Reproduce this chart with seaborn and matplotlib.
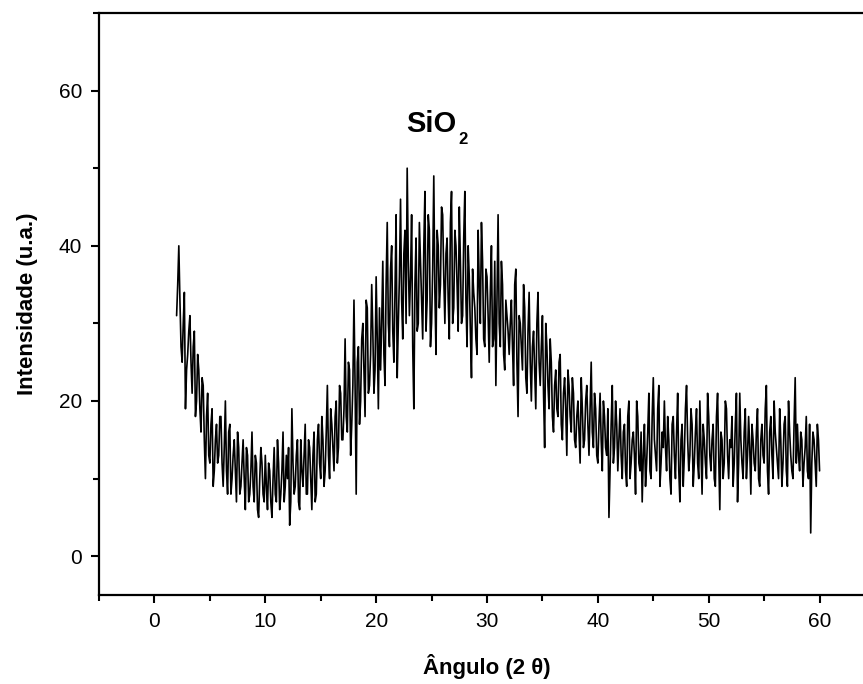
import numpy as np
import pandas as pd
import matplotlib
matplotlib.use("Agg")
import matplotlib.pyplot as plt
from matplotlib.ticker import MultipleLocator
import seaborn as sns

# 2-theta from 2 to 60 deg, step 0.1 (even and odd readings kept apart)
angle_start = 2.0
angle_step = 0.1

# intensity at 2.0, 2.2, 2.4 ... 60.0 (u.a.), one row per 2 degrees
intensity_even = [
    31, 40, 27, 30, 19, 26, 31, 21, 29, 20,   # 2
    24, 16, 22, 10, 21, 12, 19, 11, 17, 13,   # 4
    18, 9, 20, 8, 17, 10, 15, 7, 14, 9,       # 6
    15, 6, 13, 8, 16, 7, 12, 5, 14, 8,        # 8
    13, 6, 11, 5, 14, 7, 12, 8, 16, 9,        # 10
    10, 4, 19, 8, 13, 7, 15, 9, 17, 8,        # 12
    14, 6, 16, 8, 17, 10, 15, 11, 22, 10,     # 14
    17, 11, 20, 14, 21, 15, 28, 16, 24, 17,   # 16
    33, 8, 27, 20, 30, 18, 32, 22, 35, 21,    # 18
    36, 19, 24, 38, 22, 43, 27, 40, 25, 44,   # 20
    30, 46, 28, 42, 50, 31, 44, 19, 41, 30,   # 22
    38, 28, 47, 33, 42, 30, 49, 26, 40, 35,   # 24
    44, 30, 41, 28, 47, 32, 40, 29, 38, 31,   # 26
    47, 27, 36, 23, 34, 28, 42, 30, 38, 27,   # 28
    36, 25, 40, 28, 22, 44, 27, 35, 24, 31,   # 30
    26, 33, 22, 37, 18, 30, 24, 32, 21, 34,   # 32
    20, 29, 19, 34, 22, 31, 14, 27, 19, 25,   # 34
    16, 24, 18, 26, 15, 23, 13, 22, 16, 21,   # 36
    14, 20, 12, 19, 15, 22, 13, 25, 14, 19,   # 38
    12, 21, 11, 18, 13, 5, 17, 12, 20, 11,    # 40
    19, 10, 17, 9, 20, 12, 16, 8, 18, 11,     # 42
    7, 17, 12, 21, 10, 23, 13, 19, 9, 16,     # 44
    20, 11, 15, 8, 18, 10, 21, 7, 17, 13,     # 46
    22, 11, 19, 9, 16, 12, 20, 8, 15, 10,     # 48
    18, 11, 17, 9, 21, 6, 15, 12, 19, 10,     # 50
    14, 9, 17, 7, 21, 12, 16, 10, 18, 8,      # 52
    15, 11, 19, 9, 17, 12, 22, 8, 18, 10,     # 54
    16, 12, 19, 9, 17, 11, 20, 13, 10, 23,    # 56
    17, 11, 15, 12, 18, 10, 3, 16, 12, 17,    # 58
    11,                                        # 60
]

# intensity at 2.1, 2.3, 2.5 ... 59.9 (u.a.)
intensity_odd = [
    35, 33, 25, 34, 24, 29, 25, 27, 18, 26,   # 2
    19, 23, 15, 18, 13, 17, 9, 15, 12, 18,    # 4
    12, 14, 11, 16, 8, 13, 11, 16, 8, 12,     # 6
    10, 14, 7, 11, 9, 13, 6, 10, 12, 7,       # 8
    9, 12, 7, 10, 8, 15, 6, 11, 7, 13,        # 10
    14, 7, 12, 9, 15, 6, 11, 13, 8, 15,       # 12
    10, 13, 7, 15, 12, 18, 9, 16, 13, 19,     # 14
    14, 18, 12, 22, 15, 19, 18, 25, 13, 22,   # 16
    22, 25, 17, 28, 24, 33, 21, 26, 29, 24,   # 18
    28, 32, 30, 26, 35, 30, 37, 29, 34, 23,   # 20
    36, 33, 39, 30, 38, 36, 27, 35, 29, 43,   # 22
    33, 40, 29, 44, 27, 37, 34, 42, 32, 45,   # 24
    36, 39, 33, 43, 30, 42, 35, 45, 30, 41,   # 26
    33, 40, 29, 37, 32, 26, 35, 43, 28, 37,   # 28
    31, 34, 27, 38, 33, 30, 38, 26, 33, 29,   # 30
    30, 27, 35, 25, 31, 27, 35, 23, 29, 25,   # 32
    27, 24, 30, 25, 27, 21, 30, 22, 28, 18,   # 34
    22, 19, 25, 17, 21, 19, 24, 18, 23, 15,   # 36
    18, 16, 23, 14, 20, 17, 19, 16, 21, 13,   # 38
    17, 15, 20, 14, 19, 11, 22, 14, 17, 15,   # 40
    13, 16, 11, 18, 10, 15, 13, 20, 12, 16,   # 42
    13, 9, 16, 11, 18, 15, 11, 22, 12, 14,    # 44
    14, 18, 10, 17, 13, 16, 11, 15, 9, 19,    # 46
    15, 13, 17, 12, 19, 10, 14, 17, 12, 21,   # 48
    13, 15, 10, 18, 13, 16, 10, 20, 13, 15,   # 50
    18, 12, 21, 12, 15, 10, 19, 13, 14, 17,   # 52
    12, 16, 10, 15, 13, 19, 11, 16, 13, 20,   # 54
    14, 10, 15, 12, 18, 9, 16, 11, 17, 12,    # 56
    13, 16, 9, 14, 11, 17, 12, 15, 9, 15,     # 58
]

intensity = np.empty(len(intensity_even) + len(intensity_odd))
intensity[0::2] = intensity_even
intensity[1::2] = intensity_odd
angle = angle_start + angle_step * np.arange(len(intensity))
df = pd.DataFrame({"angulo": angle, "intensidade": intensity})

sns.set_style("ticks")
plt.rcParams["font.family"] = ["Liberation Sans", "DejaVu Sans"]
plt.rcParams["text.color"] = "black"
plt.rcParams["axes.labelcolor"] = "black"
plt.rcParams["xtick.color"] = "black"
plt.rcParams["ytick.color"] = "black"
plt.rcParams["axes.edgecolor"] = "black"

fig = plt.figure(figsize=(8.63, 6.84), dpi=100)
# frame runs past the right edge of the picture, as in the cropped original
ax = fig.add_axes([99 / 863, 89 / 684, 776 / 863, 582 / 684])

sns.lineplot(data=df, x="angulo", y="intensidade", color="black",
             linewidth=1.2, ax=ax, estimator=None, sort=False)

ax.set_xlim(-5, 65)
ax.set_ylim(-5, 70)
ax.xaxis.set_major_locator(MultipleLocator(10))
ax.xaxis.set_minor_locator(MultipleLocator(5))
ax.yaxis.set_major_locator(MultipleLocator(20))
ax.yaxis.set_minor_locator(MultipleLocator(10))
ax.set_yticks([0, 20, 40, 60])

for side in ax.spines.values():
    side.set_linewidth(1.6)
ax.tick_params(which="major", direction="out", length=6, width=1.5,
               labelsize=15, pad=6)
ax.tick_params(which="minor", direction="out", length=4, width=1.5)

ax.set_xlabel("Ângulo (2 θ)", fontsize=16, fontweight="bold", labelpad=17)
ax.set_ylabel("Intensidade (u.a.)", fontsize=16, fontweight="bold", labelpad=15)

# SiO2 label with a small subscript
ax.text(25.0, 55.7, "SiO", fontsize=21, fontweight="bold",
        ha="center", va="center")
ax.annotate("2", xy=(25.0, 55.7), xytext=(26.5, -15.5),
            textcoords="offset pixels", fontsize=12, fontweight="bold",
            ha="left", va="center")

fig.savefig("out.png", dpi=100)
